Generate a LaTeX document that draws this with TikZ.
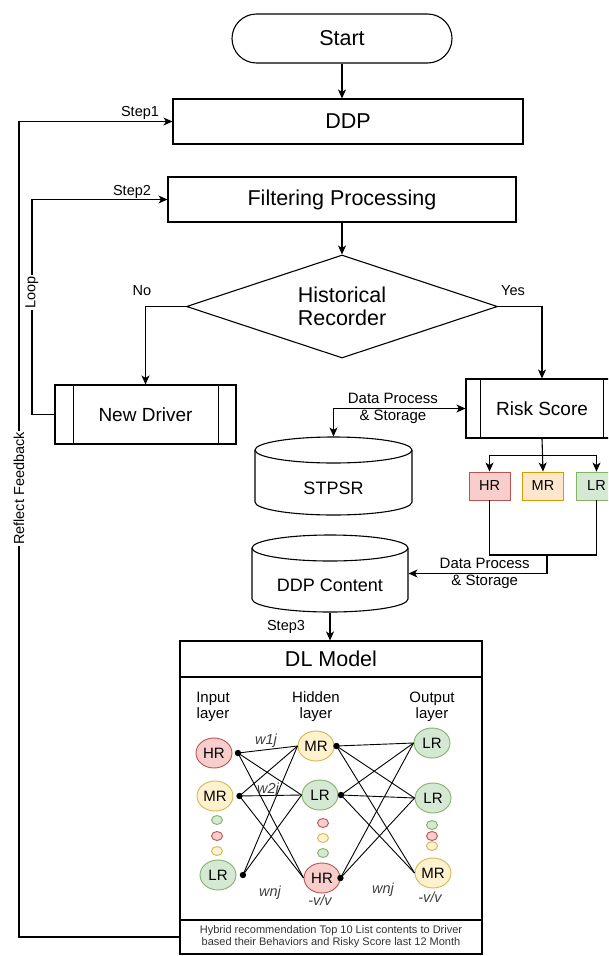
\documentclass[tikz,border=0pt]{standalone}
\usepackage{fontspec}
\setmainfont{Liberation Sans}
\usetikzlibrary{shapes.geometric,arrows.meta,calc}
\definecolor{hrF}{HTML}{F8CECC}
\definecolor{hrD}{HTML}{B85450}
\definecolor{mrF}{HTML}{FFF2CC}
\definecolor{mrD}{HTML}{D6B656}
\definecolor{mbF}{HTML}{FFE6CC}
\definecolor{mbD}{HTML}{D79B00}
\definecolor{lrF}{HTML}{D5E8D4}
\definecolor{lrD}{HTML}{82B366}
\definecolor{txtgray}{HTML}{333333}
\begin{document}
\begin{tikzpicture}[x=1pt, y=-1pt, line width=1.1pt,
 >={Stealth[length=9pt,width=8pt,inset=2.5pt]},
 box/.style={draw, fill=white, rectangle, inner sep=0pt},
 bigf/.style={font=\fontsize{21.5}{23}\selectfont},
 midf/.style={font=\fontsize{19}{22}\selectfont},
 cylf/.style={font=\fontsize{18}{21}\selectfont, inner sep=0pt},
 labf/.style={font=\fontsize{14.5}{16}\selectfont, inner sep=0pt},
 dpl/.style={font=\fontsize{15}{16.5}\selectfont, align=center, inner sep=0pt},
 rotl/.style={font=\fontsize{14.5}{16}\selectfont, rotate=90, fill=white, inner sep=1.5pt},
 neu/.style={ellipse, draw, line width=0.9pt, minimum width=36pt, minimum height=30pt, inner sep=0pt, font=\fontsize{15}{16}\selectfont},
 sdot/.style={ellipse, draw, line width=0.9pt, minimum width=11pt, minimum height=9pt, inner sep=0pt},
 hrs/.style={fill=hrF, draw=hrD},
 mrs/.style={fill=mrF, draw=mrD},
 lrs/.style={fill=lrF, draw=lrD},
 rbox/.style={rectangle, line width=0.9pt, minimum width=41pt, minimum height=28pt, inner sep=0pt, font=\fontsize{14.5}{16}\selectfont},
 wlab/.style={font=\fontsize{14.5}{16}\selectfont\itshape, text=black!75, inner sep=0pt},
 layl/.style={font=\fontsize{15}{16}\selectfont, align=center, inner sep=0pt},
 nnline/.style={line width=0.9pt}
]
\useasboundingbox (0,0) rectangle (608,956);
\clip (0,0) rectangle (608,956);

% main flow nodes
\node[box, rounded corners=24.5pt, minimum width=220pt, minimum height=49pt, bigf] (start) at (342,38.5) {Start};
\node[box, minimum width=350pt, minimum height=45pt, bigf] (ddp) at (348,121.5) {DDP};
\node[box, minimum width=348pt, minimum height=45pt, bigf] (filt) at (342,199.5) {Filtering Processing};
\node[diamond, draw, fill=white, aspect=3, minimum width=311pt, minimum height=103pt, inner sep=0pt, bigf, align=center] (hist) at (342,306.5) {Historical\\Recorder};
\node[box, minimum width=181pt, minimum height=59pt, midf] (nd) at (145.5,414.5) {New Driver};
\draw ([xshift=19pt]nd.north west) -- ([xshift=19pt]nd.south west);
\draw ([xshift=-18pt]nd.north east) -- ([xshift=-18pt]nd.south east);
\node[box, minimum width=152pt, minimum height=59pt, midf] (risk) at (542,408.5) {Risk Score};
\draw ([xshift=15pt]risk.north west) -- ([xshift=15pt]risk.south west);
\draw ([xshift=-15pt]risk.north east) -- ([xshift=-15pt]risk.south east);

% risk classes
\node[rbox, fill=hrF, draw=hrD] (hrb) at (489.5,486) {HR};
\node[rbox, fill=mbF, draw=mbD] (mrb) at (543,486) {MR};
\node[rbox, fill=lrF, draw=lrD] (lrb) at (596.5,486) {LR};

% cylinders
\draw[fill=white] (255,450) -- (255,502) arc[start angle=180, end angle=0, x radius=78.5, y radius=13] -- (412,450) arc[start angle=0, end angle=-180, x radius=78.5, y radius=13] -- cycle;
\draw (255,450) arc[start angle=180, end angle=0, x radius=78.5, y radius=13];
\node[minimum width=157pt, minimum height=78pt, inner sep=0pt] (stpsr) at (333.5,476) {};
\node[cylf] (stpsrt) at (333.5,488) {STPSR};

\draw[fill=white] (252,548) -- (252,599) arc[start angle=180, end angle=0, x radius=78, y radius=13] -- (408,548) arc[start angle=0, end angle=-180, x radius=78, y radius=13] -- cycle;
\draw (252,548) arc[start angle=180, end angle=0, x radius=78, y radius=13];
\node[minimum width=156pt, minimum height=77pt, inner sep=0pt] (ddpc) at (330,573.5) {};
\node[cylf] (ddpct) at (330,585) {DDP Content};

% DL model
\node[box, minimum width=302pt, minimum height=36pt, bigf] (dlh) at (331,659) {DL Model};
\node[box, minimum width=302pt, minimum height=243pt] (dlb) at (331,798.5) {};
\node[box, minimum width=302pt, minimum height=34pt, font=\fontsize{11}{12}\selectfont, text=txtgray, align=center] (dlf) at (331,937) {Hybrid recommendation Top 10 List contents to Driver\\based their Behaviors and Risky Score last 12 Month};

% connectors main flow
\draw[->] (start.south) -- (start.south |- ddp.north);
\draw[->] (filt.south) -- (hist.north);
\draw[->] (hist.west) -| (nd.north);
\draw[->] (hist.east) -| (risk.north);
\node[labf] (nolab) at (142,291) {No};
\node[labf] (yeslab) at (513,291) {Yes};

\coordinate (lp1) at (32,414.5);
\coordinate (lp2) at (32,199.5);
\draw[->] (nd.west) -- (lp1) -- node[rotl, pos=0.566] (looplab) {Loop} (lp2) -- (filt.west);
\node[labf] (s2lab) at (132,192) {Step2};

\coordinate (fb1) at (19,937);
\coordinate (fb2) at (19,121.5);
\draw[->] (dlf.west) -- (fb1) -- node[rotl, pos=0.55] (fblab) {Reflect Feedback} (fb2) -- (ddp.west);
\node[labf] (s1lab) at (140,113) {Step1};

\draw[<->] (stpsr.north) |- node[dpl, pos=0.725] (dp1) {Data Process\\\& Storage} (risk.west);

\draw[->] (risk.south) -- (mrb.north);
\draw[->] ([yshift=-17pt]risk.south) -| (hrb.north);
\draw[->] ([yshift=-17pt]risk.south) -| (lrb.north);

\coordinate (jn) at (547,555);
\draw (hrb.south) |- (jn) -| (lrb.south);
\draw[->] (jn) |- node[dpl, pos=0.725] (dp2) {Data Process\\\& Storage} (ddpc.east);

\draw[->] (ddpc.south) -- (ddpc.south |- dlh.north);
\node[labf] (s3lab) at (286,627) {Step3};

% neural network
\node[layl] (linp) at (213,707) {Input\\layer};
\node[layl] (lhid) at (316,707) {Hidden\\layer};
\node[layl] (lout) at (432,707) {Output\\layer};

\node[neu, hrs] (ihr) at (214,753) {HR};
\node[neu, mrs] (imr) at (215,796) {MR};
\node[neu, lrs] (ilr) at (218,875) {LR};
\node[neu, mrs] (hmr) at (316,746) {MR};
\node[neu, lrs] (hlr) at (320,795) {LR};
\node[neu, hrs] (hhr) at (322,878) {HR};
\node[neu, lrs] (olr1) at (432,743) {LR};
\node[neu, lrs] (olr2) at (433,798) {LR};
\node[neu, mrs] (omr) at (433,873) {MR};

\node[sdot, lrs] (id1) at (217,820) {};
\node[sdot, hrs] (id2) at (217,836) {};
\node[sdot, mrs] (id3) at (217,851) {};
\node[sdot, hrs] (hd1) at (323,823) {};
\node[sdot, mrs] (hd2) at (323,838) {};
\node[sdot, lrs] (hd3) at (323,853) {};
\node[sdot, lrs] (od1) at (432,825) {};
\node[sdot, hrs] (od2) at (432,836) {};
\node[sdot, mrs] (od3) at (432,846) {};

\coordinate (pihr) at ([xshift=5.5pt]ihr.east);
\coordinate (pimr) at ([xshift=6pt]imr.east);
\coordinate (pilr) at ([xshift=6.5pt]ilr.east);
\coordinate (phmr) at ([xshift=2pt]hmr.east);
\coordinate (phlr) at ([xshift=2.5pt]hlr.east);
\coordinate (phhr) at ([xshift=0pt]hhr.east);

\foreach \s in {pihr,pimr} {
  \draw[nnline] (\s) -- (hmr.west);
  \draw[nnline] (\s) -- (hlr.west);
  \draw[nnline] (\s) -- (hhr.west);
}
\draw[nnline] (pilr) -- (hmr.west);
\draw[nnline] (pilr) -- (hlr.west);
\foreach \s in {phmr,phlr} {
  \draw[nnline] (\s) -- (olr1.west);
  \draw[nnline] (\s) -- (olr2.west);
  \draw[nnline] (\s) -- (omr.west);
}
\draw[nnline] (phhr) -- (olr1.west);
\draw[nnline] (phhr) -- (olr2.west);
\foreach \s in {pihr,pimr,pilr,phmr,phlr,phhr} {
  \fill (\s) circle (3.2);
}

\node[wlab] (w1) at (266,741) {w1j};
\node[wlab] (w2) at (268,790) {w2j};
\node[wlab] (wn1) at (270,893) {wnj};
\node[wlab] (wn2) at (383,890) {wnj};
\node[wlab] (v1) at (320,900) {-v/v};
\node[wlab] (v2) at (430,897) {-v/v};
\end{tikzpicture}
\end{document}
